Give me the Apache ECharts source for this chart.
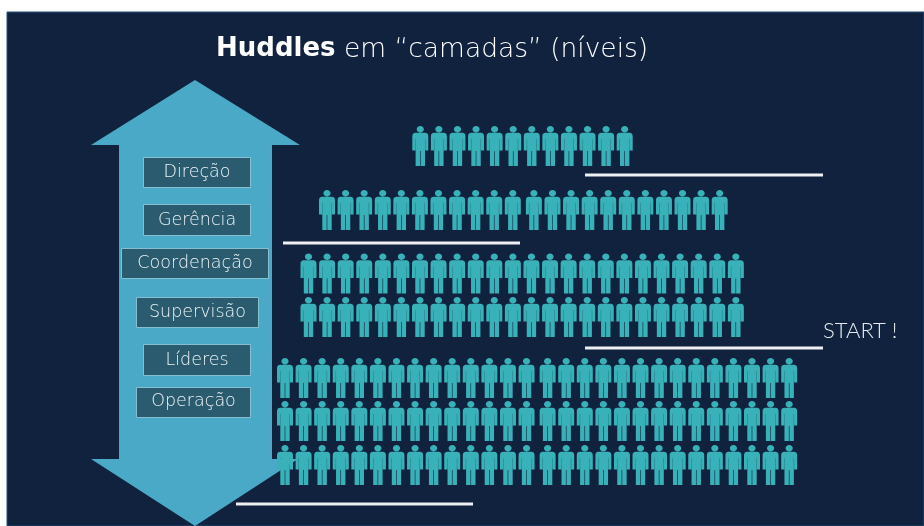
<!DOCTYPE html>
<html><head><meta charset="utf-8">
<style>html,body{margin:0;padding:0;background:#fff}#c{width:924px;height:526px}</style>
<script src="https://cdn.jsdelivr.net/npm/echarts@6/dist/echarts.min.js"></script>
</head><body><div id="c"></div>
<script>
// ---- data ----
const titleBold = 'Huddles';
const titleRest = 'em “camadas” (níveis)';
const startLabel = 'START !';
const levels = ['Direção', 'Gerência', 'Coordenação', 'Supervisão', 'Líderes', 'Operação'];
const rowHeadcount = [12, 22, 24, 24, 28, 28, 28];
const rowLeftGroup = [12, 11, 24, 24, 14, 14, 14];

// ---- layout (page units) ----
const PANEL = '#10223e', PERSON = '#38b2b8', ARROW = '#4aa9c6', BOX = '#2a5b6f', BOXLINE = '#86bfd2', RULE = '#eef0f2';
const FONT = '"DejaVu Sans"';
const pitch = 18.58, groupGap = 2.5;
const rowFirst = [420.3, 327, 308.5, 308.5, 285, 285, 285];
const rowMid = [146, 210, 273.5, 317, 378, 421, 465];
const rules = [[585, 823, 175], [283, 520, 243], [585, 823, 348], [236, 473, 504]];
const boxes = [[143.5, 157.5, 107, 30], [143.5, 204.5, 107, 31], [121.5, 248.5, 147, 30], [136.5, 297.5, 122, 30], [143.5, 344.5, 107, 31], [136.5, 387.5, 114, 30]];

const personPath = 'path://M8 0C10 0 11.6 1.5 11.6 3.2S10 6.4 8 6.4 4.4 4.9 4.4 3.2 6 0 8 0ZM3.2 6.8H12.8C15 6.8 16 8.2 16 10.2V24.5H12.9V13H12.7V40H8.3V25H7.7V40H3.3V13H3.1V24.5H0V10.2C0 8.2 1 6.8 3.2 6.8Z';

const people = [];
rowHeadcount.forEach((n, r) => {
  for (let i = 0; i < n; i++) {
    people.push([rowFirst[r] + i * pitch + (i >= rowLeftGroup[r] ? groupGap : 0), rowMid[r]]);
  }
});

const arrowShape = [[195, 80], [300, 145], [272, 145], [272, 459], [298, 459], [195, 526], [91, 459], [119, 459], [119, 145], [91, 145]];

const graphics = [
  { type: 'rect', z: 0, shape: { x: 7, y: 12, width: 917, height: 514 }, style: { fill: PANEL, stroke: '#24507f', lineWidth: 1 } },
  { type: 'polygon', z: 1, shape: { points: arrowShape }, style: { fill: ARROW } }
];
levels.forEach((t, i) => {
  const b = boxes[i];
  graphics.push({ type: 'rect', z: 2, shape: { x: b[0], y: b[1], width: b[2], height: b[3] }, style: { fill: BOX, stroke: BOXLINE, lineWidth: 1 } });
  graphics.push({ type: 'text', z: 3, x: b[0] + b[2] / 2, y: b[1] + b[3] / 2 - (i === 5 ? 1 : 0),
    style: { text: t, fill: '#eef5f7', font: '200 17.5px ' + FONT, textAlign: 'center', textVerticalAlign: 'middle' } });
});
graphics.push({ type: 'text', z: 3, x: 216, y: 49, style: { text: titleBold, fill: '#ffffff', font: 'bold 26px ' + FONT, textAlign: 'left', textVerticalAlign: 'middle' } });
graphics.push({ type: 'text', z: 3, x: 344, y: 50, style: { text: titleRest, fill: '#ffffff', font: '200 26.5px ' + FONT, textAlign: 'left', textVerticalAlign: 'middle' } });
graphics.push({ type: 'text', z: 3, x: 823, y: 331, style: { text: startLabel, fill: '#e6ebef', font: '300 22px Lato', textAlign: 'left', textVerticalAlign: 'middle' } });

const chart = echarts.init(document.getElementById('c'), null, { renderer: 'canvas' });
chart.setOption({
  animation: false,
  backgroundColor: '#ffffff',
  grid: { left: 0, right: 0, top: 0, bottom: 0 },
  xAxis: { type: 'value', min: 0, max: 924, show: false },
  yAxis: { type: 'value', min: 0, max: 526, inverse: true, show: false },
  graphic: { elements: graphics },
  series: [
    { type: 'scatter', z: 5, symbol: personPath, symbolSize: [16, 40], symbolKeepAspect: false, silent: true,
      itemStyle: { color: PERSON, opacity: 1 }, data: people },
    { type: 'custom', z: 6, silent: true, data: rules,
      renderItem: (p, api) => {
        const a = api.coord([api.value(0), api.value(2)]);
        const b = api.coord([api.value(1), api.value(2)]);
        return { type: 'line', shape: { x1: a[0], y1: a[1], x2: b[0], y2: b[1] }, style: { stroke: RULE, lineWidth: 3 } };
      } }
  ]
});
</script></body></html>
